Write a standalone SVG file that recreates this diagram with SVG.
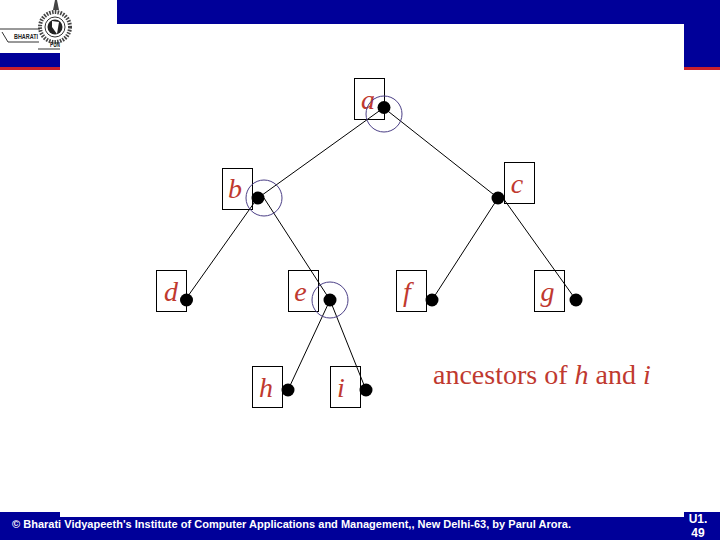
<svg xmlns="http://www.w3.org/2000/svg" width="720" height="540" viewBox="0 0 720 540">
<style>
.box{fill:none;stroke:#000;stroke-width:1}
.lbl{font-family:"Liberation Serif",serif;font-style:italic;font-size:28px;fill:#c0392f;text-anchor:middle}
.dot{fill:#000}
.ring{fill:none;stroke:#4b3f86;stroke-width:1}
.edge{stroke:#000;stroke-width:1;fill:none}
.foot{font-family:"Liberation Sans",sans-serif;font-size:11px;font-weight:700;fill:#fff}
.num{font-family:"Liberation Sans",sans-serif;font-size:12px;font-weight:700;fill:#fff;text-anchor:middle}
.logo{font-family:"Liberation Sans",sans-serif;font-size:7px;font-weight:700;fill:#222}
</style>
<rect width="720" height="540" fill="#fff"/>
<g id="header">
<rect x="117" y="0" width="603" height="24" fill="#000099"/>
<rect x="684" y="0" width="36" height="67" fill="#000099"/>
<rect x="684" y="67" width="36" height="3" fill="#c8202c"/>
<rect x="0" y="53" width="60" height="14" fill="#000099"/>
<rect x="0" y="67" width="60" height="3" fill="#c8202c"/>
</g>
<g id="logo">
<circle cx="55" cy="27" r="15" fill="none" stroke="#444" stroke-width="4" stroke-dasharray="1.6 1.2"/>
<circle cx="55" cy="27" r="10" fill="#fff" stroke="#333" stroke-width="1"/>
<circle cx="55" cy="27" r="7.5" fill="#222"/>
<path d="M52 21L59 22L57 34L52 27Z" fill="#fff"/>
<path d="M55 0H57L59 10H53Z" fill="#444"/>
<path d="M0 29H40M2 32L8 42H39M38 49H60" fill="none" stroke="#333"/>
<text class="logo" x="14" y="39" textLength="24" lengthAdjust="spacingAndGlyphs">BHARATI</text>
<text class="logo" x="50" y="47" font-size="5" textLength="10" lengthAdjust="spacingAndGlyphs">PUN</text>
</g>
<g id="connectors">
<path class="edge" d="M384 107.500L258 198M384 108L498 198M254 203L188 296M264 198L330 300M498 198L432 300M503 198L576 300M330 300L288 390M330 300L366 390"/>
</g>
<g id="node-a"><rect class="box" x="354.500" y="78.500" width="30" height="41"/><text class="lbl" x="368" y="109">a</text><circle class="dot" cx="384" cy="107.500" r="6.500"/><circle class="ring" cx="384" cy="114" r="18"/></g>
<g id="node-b"><rect class="box" x="222.500" y="168.500" width="30" height="41"/><text class="lbl" x="235" y="198">b</text><circle class="dot" cx="258" cy="198" r="6.500"/><circle class="ring" cx="264" cy="198" r="18"/></g>
<g id="node-c"><rect class="box" x="504.500" y="162.500" width="30" height="41"/><text class="lbl" x="517" y="193">c</text><circle class="dot" cx="498" cy="198" r="6.500"/></g>
<g id="node-d"><rect class="box" x="156.500" y="270.500" width="30" height="41"/><text class="lbl" x="171" y="301">d</text><circle class="dot" cx="186.500" cy="300" r="6.500"/></g>
<g id="node-e"><rect class="box" x="288.500" y="270.500" width="30" height="41"/><text class="lbl" x="300.500" y="301">e</text><circle class="dot" cx="330" cy="300" r="6.500"/><circle class="ring" cx="330" cy="300" r="18"/></g>
<g id="node-f"><rect class="box" x="396.500" y="270.500" width="30" height="41"/><text class="lbl" x="407" y="301">f</text><circle class="dot" cx="432" cy="300" r="6.500"/></g>
<g id="node-g"><rect class="box" x="534.500" y="270.500" width="30" height="41"/><text class="lbl" x="547.500" y="301">g</text><circle class="dot" cx="576" cy="300" r="6.500"/></g>
<g id="node-h"><rect class="box" x="252.500" y="366.500" width="30" height="41"/><text class="lbl" x="266" y="397">h</text><circle class="dot" cx="288" cy="390" r="6.500"/></g>
<g id="node-i"><rect class="box" x="330.500" y="366.500" width="30" height="41"/><text class="lbl" x="341" y="397">i</text><circle class="dot" cx="366" cy="390" r="6.500"/></g>
<text x="433" y="384" font-family="Liberation Serif,serif" font-size="28px" fill="#c0392f">ancestors of <tspan font-style="italic">h</tspan> and <tspan font-style="italic">i</tspan></text>
<g id="footer">
<rect x="0" y="512" width="60" height="28" fill="#000099"/>
<rect x="60" y="517" width="624" height="23" fill="#000099"/>
<rect x="684" y="512" width="36" height="28" fill="#000099"/>
<text class="foot" x="12" y="528" textLength="559">© Bharati Vidyapeeth's Institute of Computer Applications and Management,, New Delhi-63, by Parul Arora.</text>
<text class="num" x="698" y="523">U1.</text>
<text class="num" x="698" y="537">49</text>
</g>
</svg>
